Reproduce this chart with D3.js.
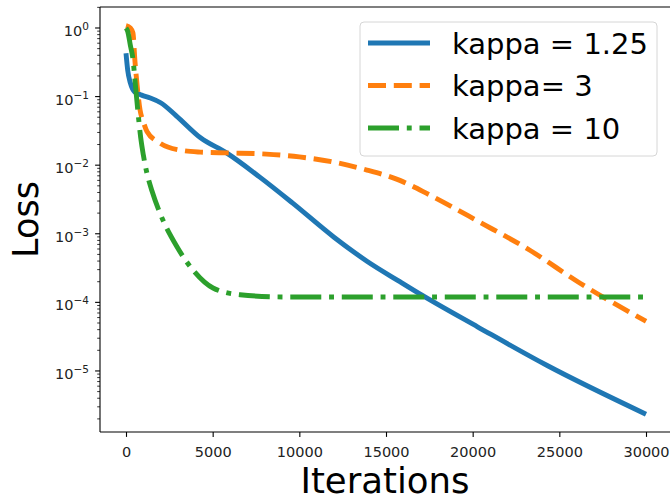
<!DOCTYPE html>
<html>
<head>
<meta charset="utf-8">
<script src="https://cdn.jsdelivr.net/npm/d3@7"></script>
<style>
  body { margin: 0; background: #fff; }
  svg { display: block; font-family: "DejaVu Sans", sans-serif; }
</style>
</head>
<body>
<svg id="chart" width="670" height="498"></svg>
<script>
// ----------------------------
// Data
// ----------------------------
var iterK125 = [0, 100, 250, 500, 900, 1400, 2000, 2900, 4300, 5800, 7700, 9600, 12000, 13900, 15800, 17100, 20300, 24300, 30000];
var lossK125 = [0.427, 0.24, 0.158, 0.117, 0.105, 0.0955, 0.0813, 0.0525, 0.0251, 0.0151, 0.00676, 0.00282, 0.000891, 0.000398, 0.0002, 0.000126, 4.37e-5, 1.2e-5, 2.34e-6];

var iterK3 = [0, 250, 400, 520, 640, 810, 1000, 1210, 1960, 3100, 4300, 5800, 8100, 10000, 11900, 13900, 15800, 17500, 20400, 23300, 26200, 30000];
var lossK3 = [1.08, 1.0, 0.85, 0.32, 0.148, 0.064, 0.043, 0.031, 0.021, 0.0166, 0.0155, 0.0151, 0.0145, 0.0132, 0.0112, 0.0085, 0.006, 0.0037, 0.00148, 0.000575, 0.00019, 5.3e-5];

var iterK10 = [0, 100, 250, 400, 550, 700, 850, 1000, 1210, 1500, 1960, 2940, 3870, 5020, 6580, 9060, 30000];
var lossK10 = [1.0, 0.89, 0.56, 0.355, 0.141, 0.056, 0.025, 0.0141, 0.0076, 0.0042, 0.002, 0.000646, 0.000295, 0.000162, 0.000129, 0.00012, 0.00012];

var seriesLabels = ["kappa = 1.25", "kappa= 3", "kappa = 10"];
var xTickValues = [0, 5000, 10000, 15000, 20000, 25000, 30000];
var yTickExponents = [0, -1, -2, -3, -4, -5];

// ----------------------------
// Layout
// ----------------------------
var svg = d3.select("#chart");
var plotLeft = 100, plotRight = 672, plotTop = 7, plotBottom = 432;

var x = d3.scaleLinear().domain([-1500, 31500]).range([plotLeft, plotRight]);
var y = d3.scaleLog().domain([Math.pow(10, -5.89), Math.pow(10, 0.306)]).range([plotBottom, plotTop]);

var colors = ["#1f77b4", "#ff7f0e", "#2ca02c"];
var dashes = [null, "18,7.8", "31,7.8,4.9,7.8"];
var lw = 4.9;

var series = [
    {iters: iterK125, loss: lossK125},
    {iters: iterK3, loss: lossK3},
    {iters: iterK10, loss: lossK10}
];

// Clip to the axes area
svg.append("defs").append("clipPath").attr("id", "plotClip")
    .append("rect").attr("x", plotLeft).attr("y", plotTop)
    .attr("width", plotRight - plotLeft).attr("height", plotBottom - plotTop);

var line = d3.line()
    .x(d => x(d[0]))
    .y(d => y(d[1]))
    .curve(d3.curveMonotoneX);

var plot = svg.append("g").attr("clip-path", "url(#plotClip)");
series.forEach(function (s, i) {
    var pts = s.iters.map((it, j) => [it, s.loss[j]]);
    plot.append("path")
        .attr("d", line(pts))
        .attr("fill", "none")
        .attr("stroke", colors[i])
        .attr("stroke-width", lw)
        .attr("stroke-dasharray", dashes[i])
        .attr("stroke-linecap", "butt")
        .attr("stroke-linejoin", "round");
});

// ----------------------------
// Axes
// ----------------------------
var xAxis = d3.axisBottom(x).tickValues(xTickValues).tickSize(4.9).tickPadding(10).tickFormat(d3.format("d"));
var gx = svg.append("g").attr("transform", "translate(0," + plotBottom + ")").call(xAxis);
gx.attr("font-size", null).attr("font-family", null);
gx.select(".domain").remove();
gx.selectAll("line").attr("stroke", "#000").attr("stroke-width", 1.1);
gx.selectAll("text").style("font-size", "14.5px").attr("fill", "#222");

// Minor ticks for log axis
var minor = [];
for (var e = -6; e <= 0; e++) {
    for (var m = 2; m <= 9; m++) {
        var v = m * Math.pow(10, e);
        if (v >= y.domain()[0] && v <= y.domain()[1]) minor.push(v);
    }
}
svg.append("g").selectAll("line").data(minor).join("line")
    .attr("x1", plotLeft - 2.8).attr("x2", plotLeft)
    .attr("y1", d => y(d)).attr("y2", d => y(d))
    .attr("stroke", "#000").attr("stroke-width", 0.8);

var yMajor = svg.append("g").selectAll("g").data(yTickExponents).join("g")
    .attr("transform", d => "translate(0," + y(Math.pow(10, d)) + ")");
yMajor.append("line").attr("x1", plotLeft - 4.9).attr("x2", plotLeft)
    .attr("stroke", "#000").attr("stroke-width", 1.1);
var yLab = yMajor.append("text")
    .attr("x", plotLeft - 11).attr("y", 8)
    .attr("text-anchor", "end")
    .attr("fill", "#222")
    .style("font-size", "14.5px");
yLab.append("tspan").text("10");
yLab.append("tspan").attr("dy", -6).style("font-size", "10.5px")
    .text(d => d === 0 ? "0" : "\u2212" + (-d));

// Spines
svg.append("line").attr("x1", plotLeft).attr("x2", plotLeft).attr("y1", plotTop).attr("y2", plotBottom)
    .attr("stroke", "#000").attr("stroke-width", 1.1);
svg.append("line").attr("x1", plotLeft).attr("x2", plotRight).attr("y1", plotBottom).attr("y2", plotBottom)
    .attr("stroke", "#000").attr("stroke-width", 1.1);
svg.append("line").attr("x1", plotLeft).attr("x2", plotRight).attr("y1", plotTop).attr("y2", plotTop)
    .attr("stroke", "#000").attr("stroke-width", 1.1);

// Axis titles
svg.append("text").attr("x", 385).attr("y", 493)
    .attr("text-anchor", "middle").style("font-size", "35.5px").attr("fill", "#000")
    .text("Iterations");
svg.append("text").attr("transform", "translate(38," + ((plotTop + plotBottom) / 2) + ") rotate(-90)")
    .attr("text-anchor", "middle").style("font-size", "35px").attr("fill", "#000")
    .text("Loss");

// ----------------------------
// Legend
// ----------------------------
var legend = svg.append("g");
legend.append("rect").attr("x", 360).attr("y", 22).attr("width", 297).attr("height", 134)
    .attr("rx", 4).attr("fill", "#fff").attr("fill-opacity", 0.8)
    .attr("stroke", "#d6d6d6").attr("stroke-width", 1);
var rows = legend.selectAll("g.row").data(seriesLabels).join("g")
    .attr("class", "row")
    .attr("transform", (d, i) => "translate(0," + (43 + i * 42.5) + ")");
rows.append("line").attr("x1", 368).attr("x2", 430)
    .attr("stroke", (d, i) => colors[i])
    .attr("stroke-width", lw)
    .attr("stroke-dasharray", (d, i) => dashes[i]);
rows.append("text").attr("x", 452).attr("y", 10.5)
    .style("font-size", "29px").attr("fill", "#000")
    .text(d => d);
</script>
</body>
</html>
